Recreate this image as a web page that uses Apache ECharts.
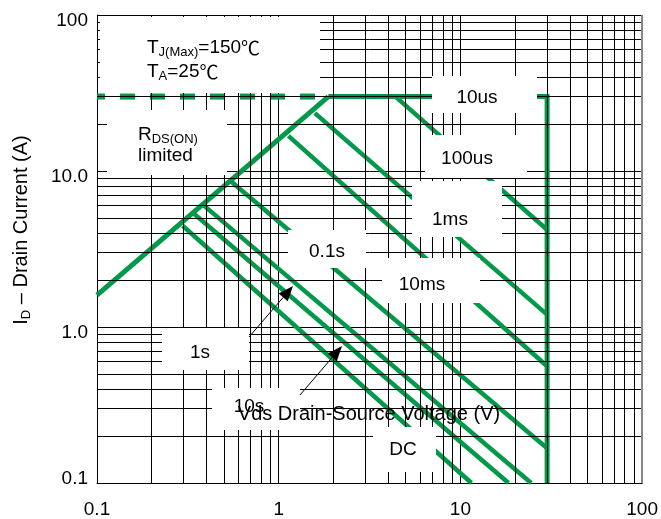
<!DOCTYPE html>
<html><head><meta charset="utf-8">
<script src="https://cdn.jsdelivr.net/npm/echarts@6/dist/echarts.min.js"></script>
<style>html,body{margin:0;padding:0;background:#fff}#c{width:661px;height:519px}</style>
</head><body><div id="c"></div>
<script>
// ---- data (V in volts, I in amps) ----
const xTickLabels = ['0.1', '1', '10', '100'];
const yTickLabels = ['0.1', '1.0', '10.0', '100'];
const minorMultipliers = [2, 3, 4, 5, 6, 7, 8, 9];
const decadeStarts = [0.1, 1, 10];

const currentLimitDashed = [[0.1, 30], [1.875, 30]];
const rdsOnLimit = [[0.1, 1.6], [1.875, 30]];
const soa10us = [[1.875, 30], [30, 30], [30, 0.1]];
const soa100us = [[4.39, 30], [30, 4.2]];
const soa1ms = [[1.58, 23.5], [30, 1.2]];
const soa10ms = [[1.13, 16.8], [30, 0.56]];
const soa100ms = [[0.545, 8.6], [30, 0.167]];
const soa1s = [[0.388, 6.0], [24.5, 0.1]];
const soa10s = [[0.343, 5.3], [18.4, 0.1]];
const soaDC = [[0.296, 4.46], [11.5, 0.1]];

// ---- styling / layout ----
const GREEN = '#00994a';
const FONT = '"Liberation Sans", Arial, sans-serif';
const CJK = '"Noto Sans CJK JP", "Noto Sans CJK SC", sans-serif';

const minorVals = [];
decadeStarts.forEach(d => minorMultipliers.forEach(m => minorVals.push(+(d * m).toPrecision(3))));

const chart = echarts.init(document.getElementById('c'), null, {renderer: 'canvas'});

function greenSeries(name, data, width, extra) {
  return Object.assign({
    name, type: 'line', data, showSymbol: false, symbol: 'none', z: 3,
    lineStyle: {color: GREEN, width: width, join: 'miter', cap: 'butt'},
    silent: true
  }, extra || {});
}

// annotation boxes (white fills that hide grid and lines behind labels)
const boxes = [
  [100, 17, 220, 76],
  [107, 110, 120, 65],
  [432, 76, 105, 37],
  [425, 135, 102, 43],
  [412, 181, 90, 56],
  [382, 258, 98, 45],
  [288, 230, 78, 38],
  [162, 328, 87, 42],
  [212, 388, 88, 42],
  [373, 427, 63, 45]
];
const labels = [
  ['10us', 477, 98], ['100us', 467, 159], ['1ms', 450, 220], ['10ms', 422, 285],
  ['0.1s', 327, 252], ['1s', 200, 353], ['10s', 249, 407], ['DC', 403, 450]
];
const arrows = [
  [249, 337, 293, 286],
  [300, 395, 342, 346]
];

const graphics = [];
boxes.forEach(b => graphics.push({type: 'rect', shape: {x: b[0], y: b[1], width: b[2], height: b[3]}, style: {fill: '#fff'}, z: 100, silent: true}));
labels.forEach(l => graphics.push({type: 'text', x: l[1], y: l[2], z: 101, silent: true,
  style: {text: l[0], fill: '#000', fontSize: 19, fontFamily: FONT, textAlign: 'center', textVerticalAlign: 'middle', align: 'center', verticalAlign: 'middle'}}));
const rich = {
  b: {fontSize: 19, fontFamily: FONT, fill: '#000', color: '#000', lineHeight: 22},
  c: {fontSize: 19, fontFamily: CJK, fill: '#000', color: '#000', lineHeight: 22},
  s: {fontSize: 13, fontFamily: FONT, fill: '#000', color: '#000', lineHeight: 12, verticalAlign: 'bottom'}
};
graphics.push({type: 'text', x: 147, y: 48, z: 101, silent: true,
  style: {text: '{b|T}{s|J(Max)}{b|=150}{c|℃}', rich, textAlign: 'left', textVerticalAlign: 'middle', align: 'left', verticalAlign: 'middle'}});
graphics.push({type: 'text', x: 147, y: 72, z: 101, silent: true,
  style: {text: '{b|T}{s|A}{b|=25}{c|℃}', rich, textAlign: 'left', textVerticalAlign: 'middle', align: 'left', verticalAlign: 'middle'}});
graphics.push({type: 'text', x: 138, y: 135, z: 101, silent: true,
  style: {text: '{b|R}{s|DS(ON)}', rich, textAlign: 'left', textVerticalAlign: 'middle', align: 'left', verticalAlign: 'middle'}});
graphics.push({type: 'text', x: 138, y: 156, z: 101, silent: true,
  style: {text: 'limited', fill: '#000', fontSize: 19, fontFamily: FONT, textAlign: 'left', textVerticalAlign: 'middle', align: 'left', verticalAlign: 'middle'}});
// y-axis title
graphics.push({type: 'text', x: 21, y: 230, rotation: Math.PI / 2, z: 101, silent: true,
  style: {text: '{b|I}{s|D}{b| – Drain Current (A)}', rich: {
    b: {fontSize: 20, fontFamily: FONT, fill: '#000', color: '#000', lineHeight: 23},
    s: {fontSize: 13, fontFamily: FONT, fill: '#000', color: '#000', lineHeight: 12, verticalAlign: 'bottom'}},
    textAlign: 'center', textVerticalAlign: 'middle', align: 'center', verticalAlign: 'middle'}});
// x-axis title (sits inside the plot, on top of the label boxes)
graphics.push({type: 'text', x: 369, y: 414, z: 103, silent: true,
  style: {text: 'Vds Drain-Source Voltage (V)', fill: '#000', fontSize: 20, fontFamily: FONT,
    textAlign: 'center', textVerticalAlign: 'middle', align: 'center', verticalAlign: 'middle'}});
arrows.forEach(a => {
  const [x1, y1, x2, y2] = a;
  const dx = x2 - x1, dy = y2 - y1, len = Math.hypot(dx, dy);
  const ux = dx / len, uy = dy / len, L = 15, W = 6;
  const bx = x2 - ux * L, by = y2 - uy * L;
  graphics.push({type: 'line', z: 102, silent: true, shape: {x1, y1, x2: bx, y2: by}, style: {stroke: '#000', lineWidth: 1}});
  graphics.push({type: 'polygon', z: 102, silent: true, shape: {points: [[x2, y2], [bx - uy * W, by + ux * W], [bx + uy * W, by - ux * W]]}, style: {fill: '#000'}});
});

const minorMarks = [];
minorVals.forEach(v => minorMarks.push({xAxis: v}));
minorVals.forEach(v => minorMarks.push({yAxis: v}));
minorMarks.push({xAxis: 100, lineStyle: {color: '#888', width: 2}});

chart.setOption({
  animation: false,
  backgroundColor: '#fff',
  grid: {left: 97, top: 15, right: 13, bottom: 36, show: false},
  xAxis: {
    type: 'log', logBase: 10, min: 0.1, max: 100, splitNumber: 3,
    axisLine: {show: true, lineStyle: {color: '#000', width: 1}},
    axisTick: {show: false},
    axisLabel: {color: '#000', fontSize: 19, fontFamily: FONT, margin: 17,
      formatter: v => xTickLabels[Math.round(Math.log10(v)) + 1]},
    splitLine: {show: true, lineStyle: {color: '#000', width: 1}},
    minorTick: {show: false}, minorSplitLine: {show: false}
  },
  yAxis: {
    type: 'log', logBase: 10, min: 0.1, max: 100, splitNumber: 3,
    axisLine: {show: true, lineStyle: {color: '#000', width: 1}},
    axisTick: {show: false},
    axisLabel: {color: '#000', fontSize: 19, fontFamily: FONT, margin: 9,
      formatter: v => {
        const i = Math.round(Math.log10(v)) + 1;
        return i === 0 ? '{lo|' + yTickLabels[i] + '}' : '{n|' + yTickLabels[i] + '}';
      },
      rich: {
        n: {fontSize: 19, fontFamily: FONT, color: '#000', padding: [12, 0, 0, 0]},
        lo: {fontSize: 19, fontFamily: FONT, color: '#000', padding: [0, 0, 8, 0]}
      }},
    splitLine: {show: true, lineStyle: {color: '#000', width: 1}}
  },
  series: [
    {type: 'line', data: [[0.1, 0.1]], showSymbol: false, symbol: 'none', z: 1, silent: true,
      lineStyle: {opacity: 0},
      markLine: {silent: true, symbol: ['none', 'none'], label: {show: false}, animation: false,
        lineStyle: {color: '#000', width: 1, type: 'solid'}, emphasis: {disabled: true}, data: minorMarks}},
    greenSeries('Current limit', currentLimitDashed, 6, {lineStyle: {color: GREEN, width: 6, type: [15, 15], dashOffset: 7, cap: 'butt'}}),
    greenSeries('RDS(ON) limited', rdsOnLimit, 5),
    greenSeries('10us', soa10us, 5),
    greenSeries('100us', soa100us, 4.5),
    greenSeries('1ms', soa1ms, 4.5),
    greenSeries('10ms', soa10ms, 4.5),
    greenSeries('0.1s', soa100ms, 4.5),
    greenSeries('1s', soa1s, 4.5),
    greenSeries('10s', soa10s, 4.5),
    greenSeries('DC', soaDC, 4.5)
  ],
  graphic: graphics
});
</script></body></html>
